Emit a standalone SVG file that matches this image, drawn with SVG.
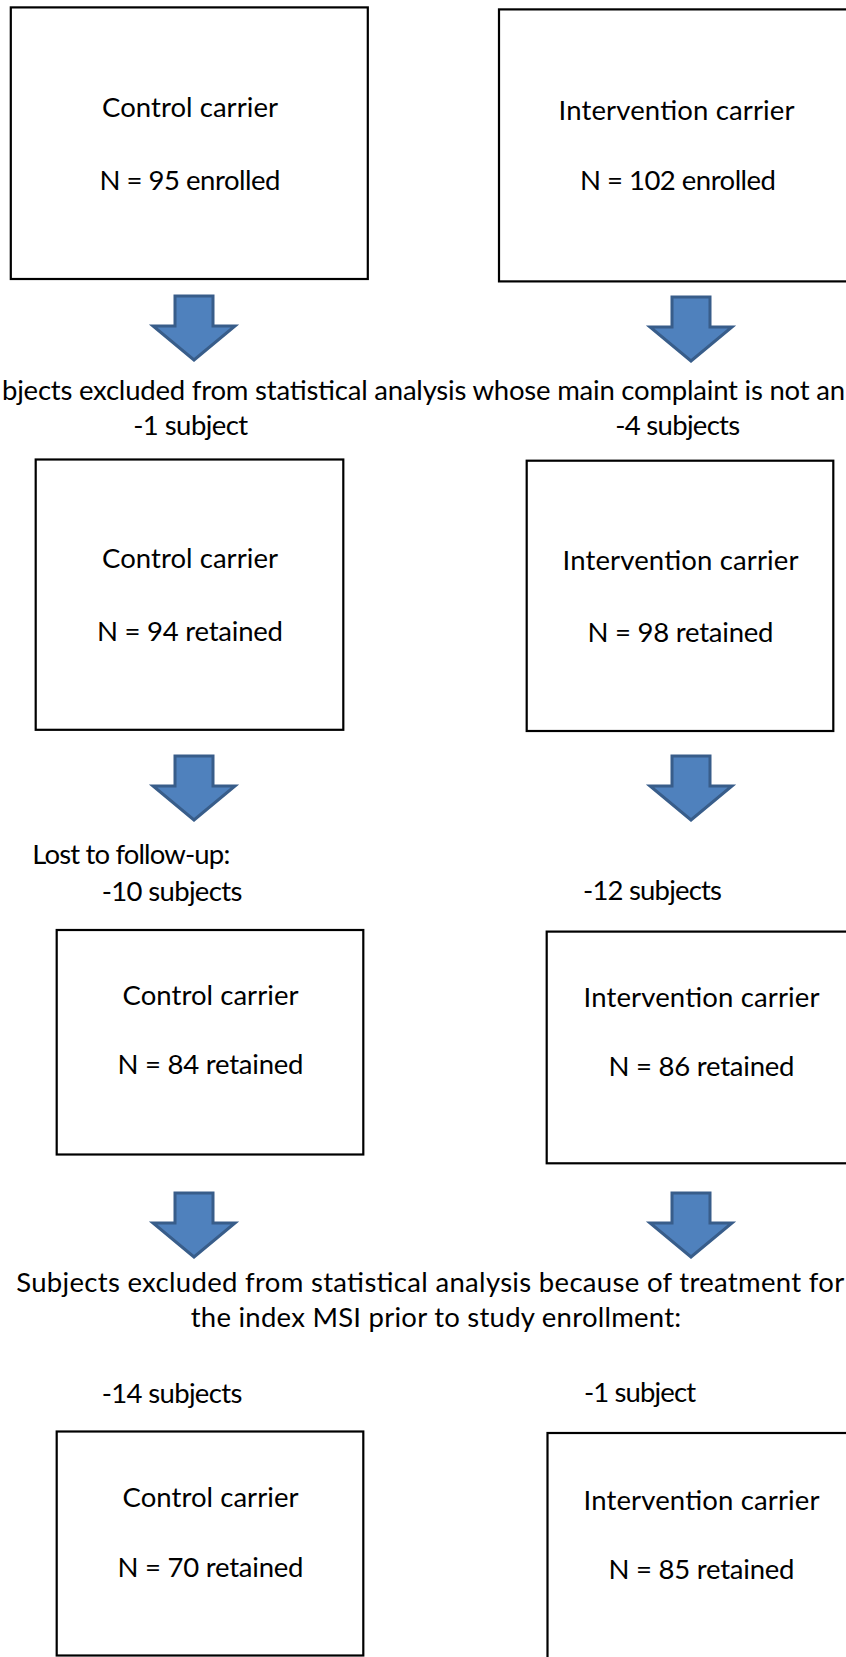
<svg xmlns="http://www.w3.org/2000/svg" width="846" height="1657" viewBox="0 0 846 1657">
<defs>
<style>
.box{fill:#ffffff;stroke:#000000;stroke-width:2.2}
.arr{fill:#4F81BD;stroke:#385D8A;stroke-width:3;stroke-linejoin:miter}
text{font-family:Lato,"Liberation Sans",sans-serif;font-size:27.5px;fill:#000000}
.c{text-anchor:middle}
</style>
<path id="arrow" class="arr" d="M-19,0 H19 V30 H41 L0,64 L-41,30 H-19 Z"/>
</defs>
<rect width="846" height="1657" fill="#ffffff"/>

<g id="connectors">
<use href="#arrow" x="194" y="296"/>
<use href="#arrow" x="691" y="297"/>
<use href="#arrow" x="194" y="756"/>
<use href="#arrow" x="691" y="756"/>
<use href="#arrow" x="194" y="1193"/>
<use href="#arrow" x="691" y="1193"/>
</g>

<g id="control-enrolled">
<rect class="box" x="10.8" y="7.4" width="357" height="271.6"/>
<text class="c" x="190" y="117" textLength="176">Control carrier</text>
<text class="c" x="190" y="190" textLength="181">N = 95 enrolled</text>
</g>
<g id="intervention-enrolled">
<rect class="box" x="499" y="9.4" width="357" height="272"/>
<text class="c" x="676.5" y="120" textLength="236">Intervention carrier</text>
<text class="c" x="678" y="190" textLength="196">N = 102 enrolled</text>
</g>

<g id="label-excluded-1">
<text x="2" y="400" textLength="843">bjects excluded from statistical analysis whose main complaint is not an</text>
<text class="c" x="190.7" y="435" textLength="115">-1 subject</text>
<text class="c" x="677.7" y="435" textLength="125">-4 subjects</text>
</g>

<g id="control-retained-1">
<rect class="box" x="35.7" y="459.5" width="307.6" height="270.3"/>
<text class="c" x="190" y="568" textLength="176">Control carrier</text>
<text class="c" x="190" y="641" textLength="186">N = 94 retained</text>
</g>
<g id="intervention-retained-1">
<rect class="box" x="526.7" y="460.7" width="306.6" height="270.3"/>
<text class="c" x="680.5" y="570" textLength="236">Intervention carrier</text>
<text class="c" x="680.5" y="642" textLength="186">N = 98 retained</text>
</g>

<g id="label-lost">
<text x="32.3" y="864" textLength="198">Lost to follow-up:</text>
<text class="c" x="172" y="901" textLength="140.6">-10 subjects</text>
<text class="c" x="652.5" y="900" textLength="139">-12 subjects</text>
</g>

<g id="control-retained-2">
<rect class="box" x="56.7" y="930" width="306.6" height="224.5"/>
<text class="c" x="210.5" y="1004.5" textLength="176">Control carrier</text>
<text class="c" x="210.5" y="1074" textLength="186">N = 84 retained</text>
</g>
<g id="intervention-retained-2">
<rect class="box" x="546.7" y="931.6" width="306.6" height="231.7"/>
<text class="c" x="701.5" y="1006.6" textLength="236">Intervention carrier</text>
<text class="c" x="701.5" y="1076" textLength="186">N = 86 retained</text>
</g>

<g id="label-excluded-2">
<text x="16.2" y="1292" textLength="828">Subjects excluded from statistical analysis because of treatment for</text>
<text class="c" x="436" y="1327" textLength="490.5">the index MSI prior to study enrollment:</text>
<text class="c" x="172" y="1402.7" textLength="140.6">-14 subjects</text>
<text class="c" x="640" y="1402" textLength="112">-1 subject</text>
</g>

<g id="control-final">
<rect class="box" x="56.7" y="1431.5" width="306.6" height="224"/>
<text class="c" x="210.5" y="1507" textLength="176">Control carrier</text>
<text class="c" x="210.5" y="1577" textLength="186">N = 70 retained</text>
</g>
<g id="intervention-final">
<rect class="box" x="547.5" y="1433" width="306.6" height="230"/>
<text class="c" x="701.5" y="1510" textLength="236">Intervention carrier</text>
<text class="c" x="701.5" y="1579" textLength="186">N = 85 retained</text>
</g>
</svg>
